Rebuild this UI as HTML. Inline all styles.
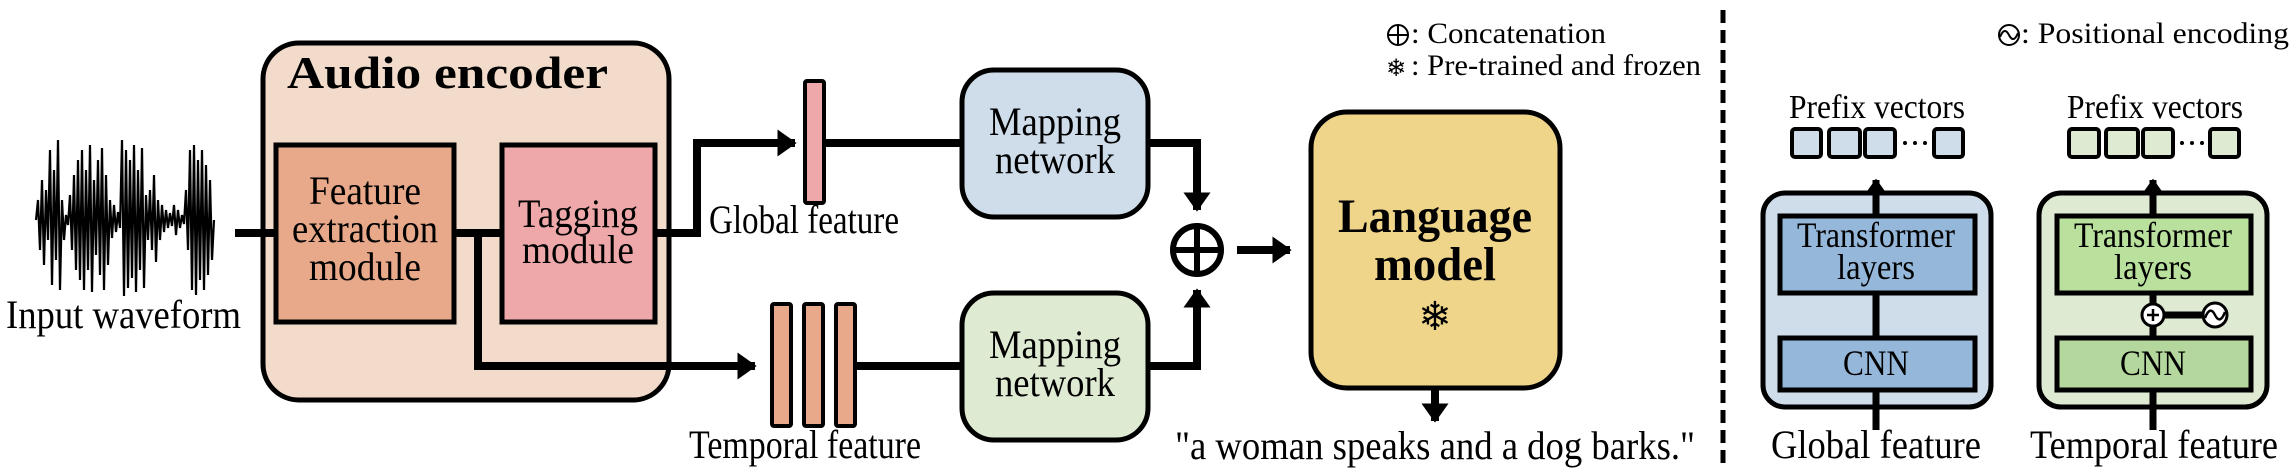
<!DOCTYPE html>
<html><head><meta charset="utf-8"><style>
html,body{margin:0;padding:0;background:#fff;font-family:"Liberation Serif","DejaVu Serif",serif}
svg{display:block}
svg text{font-family:"Liberation Serif","DejaVu Serif",serif !important;fill:#000}
svg text.sym{font-family:"DejaVu Sans",sans-serif !important}
</style></head><body>
<svg width="2291" height="472" viewBox="0 0 2291 472" xmlns="http://www.w3.org/2000/svg" font-family="Liberation Serif, DejaVu Serif, serif">
<defs>
<marker id="ah" markerWidth="4" markerHeight="4" refX="2.2" refY="2" orient="auto" markerUnits="strokeWidth">
<path d="M0,0.3 L2.4,2 L0,3.7 Z" fill="#000"/>
</marker>
</defs>
<g stroke="#000" stroke-width="2.2">
<path d="M36 220 L38 200 L40 250 L42 180 L44 265 L46 190 L48 240 L50 150 L52 285 L54 170 L56 260 L58 140 L60 290 L62 200 L64 240 L66 215 L68 225 L70 195 L72 250 L74 175 L76 270 L78 160 L80 280 L82 150 L84 290 L86 170 L88 270 L90 145 L92 292 L94 180 L96 255 L98 160 L100 275 L102 148 L104 290 L106 175 L108 265 L110 200 L112 238 L114 205 L116 232 L118 212 L120 228 L122 140 L124 296 L126 150 L128 288 L130 160 L132 278 L134 145 L136 292 L138 170 L140 270 L142 148 L144 288 L146 195 L148 240 L150 190 L152 250 L154 175 L156 262 L158 200 L160 240 L162 205 L164 232 L166 210 L168 228 L170 213 L172 226 L174 205 L176 235 L178 210 L180 228 L182 215 L184 224 L186 190 L188 250 L190 150 L192 290 L194 145 L196 295 L198 160 L200 280 L202 150 L204 290 L206 165 L208 275 L210 180 L212 260 L214 220" fill="none"/>
</g>
<g style="font-family:'Liberation Serif','DejaVu Serif',serif">
<text x="6" y="328" font-size="40" textLength="235" lengthAdjust="spacingAndGlyphs">Input waveform</text>

<rect x="263" y="43" width="406" height="357" rx="36" fill="#f2dbcb" stroke="#000" stroke-width="5"/>
<text x="287" y="88" font-size="46" font-weight="bold" textLength="321" lengthAdjust="spacingAndGlyphs">Audio encoder</text>

<g stroke="#000" stroke-width="8" fill="none">
<line x1="235" y1="233" x2="276" y2="233"/>
<line x1="453" y1="233" x2="503" y2="233"/>
<path d="M478 229 V366 H755" marker-end="url(#ah)"/>
<path d="M654 233 H697 V143 H795" marker-end="url(#ah)"/>
<line x1="825" y1="143" x2="963" y2="143"/>
<line x1="857" y1="366" x2="963" y2="366"/>
<path d="M1146 143 H1197 V210" marker-end="url(#ah)"/>
<path d="M1146 366 H1197 V290" marker-end="url(#ah)"/>
<path d="M1237 250 H1290" marker-end="url(#ah)"/>
<path d="M1435 388 V421" marker-end="url(#ah)"/>
</g>

<rect x="276" y="145" width="178" height="177" fill="#e8a88a" stroke="#000" stroke-width="5"/>
<text x="365" y="204" font-size="40" text-anchor="middle" textLength="112" lengthAdjust="spacingAndGlyphs">Feature</text>
<text x="365" y="242" font-size="40" text-anchor="middle" textLength="146" lengthAdjust="spacingAndGlyphs">extraction</text>
<text x="365" y="280" font-size="40" text-anchor="middle" textLength="112" lengthAdjust="spacingAndGlyphs">module</text>

<rect x="502" y="145" width="153" height="177" fill="#efa8aa" stroke="#000" stroke-width="5"/>
<text x="578" y="227" font-size="40" text-anchor="middle" textLength="120" lengthAdjust="spacingAndGlyphs">Tagging</text>
<text x="578" y="263" font-size="40" text-anchor="middle" textLength="112" lengthAdjust="spacingAndGlyphs">module</text>

<rect x="805" y="81" width="19" height="122" rx="2" fill="#efa8aa" stroke="#000" stroke-width="4"/>
<text x="709" y="233" font-size="40" textLength="190" lengthAdjust="spacingAndGlyphs">Global feature</text>
<g fill="#e8a88a" stroke="#000" stroke-width="4">
<rect x="772" y="304" width="19" height="122" rx="2"/>
<rect x="804" y="304" width="19" height="122" rx="2"/>
<rect x="836" y="304" width="19" height="122" rx="2"/>
</g>
<text x="689" y="458" font-size="40" textLength="232" lengthAdjust="spacingAndGlyphs">Temporal feature</text>

<rect x="962" y="70" width="186" height="147" rx="32" fill="#cfdcea" stroke="#000" stroke-width="5"/>
<text x="1055" y="135" font-size="40" text-anchor="middle" textLength="132" lengthAdjust="spacingAndGlyphs">Mapping</text>
<text x="1055" y="173" font-size="40" text-anchor="middle" textLength="120" lengthAdjust="spacingAndGlyphs">network</text>
<rect x="962" y="293" width="186" height="147" rx="32" fill="#dfead3" stroke="#000" stroke-width="5"/>
<text x="1055" y="358" font-size="40" text-anchor="middle" textLength="132" lengthAdjust="spacingAndGlyphs">Mapping</text>
<text x="1055" y="396" font-size="40" text-anchor="middle" textLength="120" lengthAdjust="spacingAndGlyphs">network</text>

<circle cx="1197" cy="250" r="24" fill="#fff" stroke="#000" stroke-width="6"/>
<line x1="1173" y1="250" x2="1221" y2="250" stroke="#000" stroke-width="6"/>
<line x1="1197" y1="226" x2="1197" y2="274" stroke="#000" stroke-width="6"/>

<rect x="1311" y="112" width="249" height="276" rx="36" fill="#efd58a" stroke="#000" stroke-width="5"/>
<text x="1435" y="232" font-size="48" font-weight="bold" text-anchor="middle" textLength="194" lengthAdjust="spacingAndGlyphs">Language</text>
<text x="1435" y="280" font-size="48" font-weight="bold" text-anchor="middle" textLength="122" lengthAdjust="spacingAndGlyphs">model</text>
<text class="sym" x="1435" y="330" font-size="40" text-anchor="middle">❄</text>

<text x="1175" y="459" font-size="40" textLength="520" lengthAdjust="spacingAndGlyphs">"a woman speaks and a dog barks."</text>

<circle cx="1398" cy="35" r="10" fill="none" stroke="#000" stroke-width="2"/>
<line x1="1388" y1="35" x2="1408" y2="35" stroke="#000" stroke-width="2"/>
<line x1="1398" y1="25" x2="1398" y2="45" stroke="#000" stroke-width="2"/>
<text x="1411" y="43" font-size="30" textLength="195" lengthAdjust="spacingAndGlyphs">: Concatenation</text>
<text class="sym" x="1386" y="76" font-size="24">❄</text>
<text x="1411" y="75" font-size="30" textLength="290" lengthAdjust="spacingAndGlyphs">: Pre-trained and frozen</text>

<line x1="1723" y1="10" x2="1723" y2="463" stroke="#000" stroke-width="5" stroke-dasharray="13,7"/>

<circle cx="2009" cy="35" r="10" fill="none" stroke="#000" stroke-width="2"/>
<path d="M2000 37 Q2004.5 26 2009 35 T2018 33" fill="none" stroke="#000" stroke-width="2"/>
<text x="2021" y="43" font-size="30" textLength="268" lengthAdjust="spacingAndGlyphs">: Positional encoding</text>

<rect x="1763" y="193" width="228" height="214" rx="22" fill="#cfdcea" stroke="#000" stroke-width="5"/>
<line x1="1876" y1="430" x2="1876" y2="180" stroke="#000" stroke-width="7" marker-end="url(#ah)"/>
<rect x="1780" y="216" width="195" height="77" fill="#95b7d9" stroke="#000" stroke-width="5"/>
<text x="1876" y="247" font-size="36" text-anchor="middle" textLength="158" lengthAdjust="spacingAndGlyphs">Transformer</text>
<text x="1876" y="279" font-size="36" text-anchor="middle" textLength="78" lengthAdjust="spacingAndGlyphs">layers</text>
<rect x="1780" y="338" width="195" height="52" fill="#95b7d9" stroke="#000" stroke-width="5"/>
<text x="1876" y="375" font-size="36" text-anchor="middle" textLength="66" lengthAdjust="spacingAndGlyphs">CNN</text>
<text x="1789" y="118" font-size="34" textLength="176" lengthAdjust="spacingAndGlyphs">Prefix vectors</text>
<g fill="#cfdcea" stroke="#000" stroke-width="4">
<rect x="1792" y="129" width="29" height="28" rx="3"/>
<rect x="1829" y="129" width="31" height="28" rx="3"/>
<rect x="1865" y="129" width="30" height="28" rx="3"/>
<rect x="1934" y="129" width="29" height="28" rx="3"/>
</g>
<g fill="#000"><circle cx="1905" cy="143" r="2"/><circle cx="1915" cy="143" r="2"/><circle cx="1925" cy="143" r="2"/></g>
<text x="1771" y="458" font-size="40" textLength="210" lengthAdjust="spacingAndGlyphs">Global feature</text>

<rect x="2039" y="193" width="228" height="214" rx="22" fill="#dfead3" stroke="#000" stroke-width="5"/>
<line x1="2153" y1="430" x2="2153" y2="180" stroke="#000" stroke-width="7" marker-end="url(#ah)"/>
<rect x="2057" y="216" width="194" height="77" fill="#b9e09c" stroke="#000" stroke-width="5"/>
<text x="2153" y="247" font-size="36" text-anchor="middle" textLength="158" lengthAdjust="spacingAndGlyphs">Transformer</text>
<text x="2153" y="279" font-size="36" text-anchor="middle" textLength="78" lengthAdjust="spacingAndGlyphs">layers</text>
<rect x="2057" y="338" width="194" height="52" fill="#b3d79d" stroke="#000" stroke-width="5"/>
<text x="2153" y="375" font-size="36" text-anchor="middle" textLength="66" lengthAdjust="spacingAndGlyphs">CNN</text>
<line x1="2153" y1="315" x2="2214" y2="315" stroke="#000" stroke-width="7"/>
<circle cx="2153" cy="315" r="11" fill="#fff" stroke="#000" stroke-width="3"/>
<line x1="2147" y1="315" x2="2159" y2="315" stroke="#000" stroke-width="2.5"/>
<line x1="2153" y1="309" x2="2153" y2="321" stroke="#000" stroke-width="2.5"/>
<circle cx="2215" cy="315" r="12" fill="#fff" stroke="#000" stroke-width="3"/>
<path d="M2205 318 Q2210 305 2215 315 T2225 312" fill="none" stroke="#000" stroke-width="2.5"/>
<text x="2067" y="118" font-size="34" textLength="176" lengthAdjust="spacingAndGlyphs">Prefix vectors</text>
<g fill="#dfead3" stroke="#000" stroke-width="4">
<rect x="2069" y="129" width="30" height="28" rx="3"/>
<rect x="2106" y="129" width="32" height="28" rx="3"/>
<rect x="2143" y="129" width="30" height="28" rx="3"/>
<rect x="2210" y="129" width="29" height="28" rx="3"/>
</g>
<g fill="#000"><circle cx="2182" cy="143" r="2"/><circle cx="2192" cy="143" r="2"/><circle cx="2202" cy="143" r="2"/></g>
<text x="2030" y="458" font-size="40" textLength="248" lengthAdjust="spacingAndGlyphs">Temporal feature</text>
</g>
</svg>
</body></html>
